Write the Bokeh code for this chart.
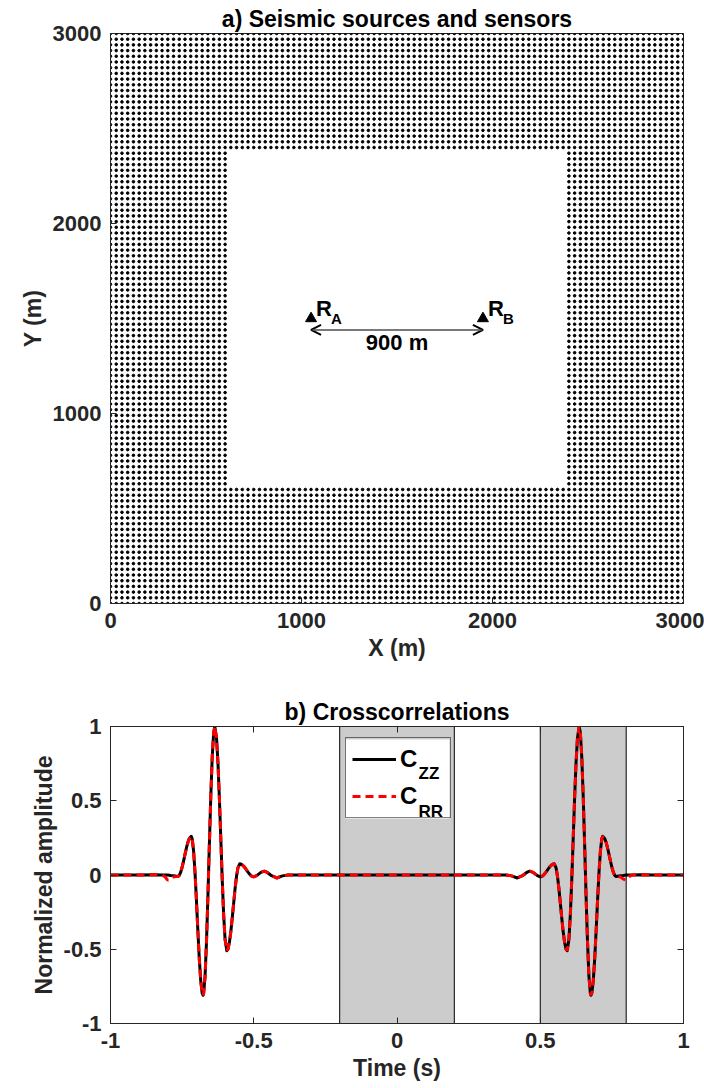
import numpy as np
from bokeh.plotting import figure
from bokeh.layouts import column
from bokeh.models import (ColumnDataSource, Range1d, FixedTicker, LinearAxis, Arrow,
                          OpenHead, Label, LabelSet, Legend, LegendItem, BoxAnnotation)
from bokeh.core.properties import value
from bokeh.embed import file_html
from bokeh.resources import INLINE

FONT = "Liberation Sans"
AX_COLOR = "#262626"

# ---------------- panel a: sources and sensors ----------------
grid_step_m = 30
area_size_m = 3000
hole_min_m = 600
hole_max_m = 2400
receiver_x = [1050, 1950]
receiver_y = [1500, 1500]
receiver_name = ["R", "R"]
receiver_sub = ["A", "B"]
spacing_label = "900 m"
arrow_y_m = 1440
xy_ticks = [0, 1000, 2000, 3000]

# ---------------- panel b: crosscorrelations ----------------
acausal_time = [-1.0, -0.90, -0.85, -0.82, -0.81, -0.80, -0.79, -0.78, -0.765, -0.76,
                -0.755, -0.75, -0.745, -0.74, -0.735, -0.73, -0.725, -0.718, -0.715, -0.71,
                -0.705, -0.70, -0.695, -0.69, -0.685, -0.68, -0.677, -0.675, -0.67, -0.665,
                -0.66, -0.655, -0.65, -0.645, -0.64, -0.636, -0.63, -0.625, -0.62, -0.615,
                -0.61, -0.605, -0.60, -0.594, -0.59, -0.585, -0.58, -0.575, -0.57, -0.565,
                -0.56, -0.555, -0.549, -0.545, -0.54, -0.535, -0.53, -0.525, -0.52, -0.515,
                -0.51, -0.505, -0.50, -0.49, -0.475, -0.463, -0.455, -0.44, -0.42, -0.40, -0.38]
acausal_zz = [0.0, 0.0, 0.002, 0.0, 0.0, 0.0, -0.003, -0.005, -0.010, -0.003,
              0.019, 0.052, 0.094, 0.139, 0.182, 0.219, 0.246, 0.260, 0.246, 0.163,
              0.016, -0.173, -0.377, -0.566, -0.713, -0.796, -0.810, -0.799, -0.684, -0.453,
              -0.145, 0.199, 0.527, 0.793, 0.958, 1.000, 0.925, 0.759, 0.521, 0.245,
              -0.031, -0.269, -0.435, -0.510, -0.499, -0.454, -0.381, -0.288, -0.187, -0.089,
              -0.007, 0.050, 0.075, 0.074, 0.068, 0.059, 0.047, 0.033, 0.019, 0.007,
              -0.003, -0.010, -0.012, -0.004, 0.018, 0.026, 0.020, -0.002, -0.020, -0.006, 0.0]
acausal_rr = [0.0, 0.0, 0.002, 0.0, -0.012, -0.035, -0.028, -0.012, -0.010, -0.003,
              0.019, 0.052, 0.094, 0.139, 0.182, 0.219, 0.246, 0.260, 0.246, 0.163,
              0.016, -0.173, -0.377, -0.566, -0.713, -0.796, -0.810, -0.799, -0.684, -0.453,
              -0.145, 0.199, 0.527, 0.793, 0.958, 1.000, 0.925, 0.759, 0.521, 0.245,
              -0.031, -0.269, -0.435, -0.510, -0.499, -0.454, -0.381, -0.288, -0.187, -0.089,
              -0.007, 0.050, 0.075, 0.074, 0.068, 0.059, 0.047, 0.033, 0.019, 0.007,
              -0.003, -0.010, -0.012, -0.004, 0.018, 0.026, 0.020, -0.002, -0.020, -0.006, 0.0]
middle_time = [-0.3, -0.2, -0.1, 0.0, 0.1, 0.2, 0.3]
middle_zz = [0.0, 0.0, 0.0, 0.0, 0.0, 0.0, 0.0]
middle_rr = [0.0, 0.0, 0.0, 0.0, 0.0, 0.0, 0.0]
causal_time = [0.38, 0.40, 0.42, 0.44, 0.455, 0.463, 0.475, 0.49, 0.50, 0.505,
               0.51, 0.515, 0.52, 0.525, 0.53, 0.535, 0.54, 0.545, 0.549, 0.555,
               0.56, 0.565, 0.57, 0.575, 0.58, 0.585, 0.59, 0.594, 0.60, 0.605,
               0.61, 0.615, 0.62, 0.625, 0.63, 0.636, 0.64, 0.645, 0.65, 0.655,
               0.66, 0.665, 0.67, 0.675, 0.677, 0.68, 0.685, 0.69, 0.695, 0.70,
               0.705, 0.71, 0.715, 0.718, 0.725, 0.73, 0.735, 0.74, 0.745, 0.75,
               0.755, 0.76, 0.765, 0.78, 0.79, 0.80, 0.81, 0.82, 0.85, 0.90, 1.0]
causal_zz = [0.0, -0.006, -0.020, -0.002, 0.020, 0.026, 0.018, -0.004, -0.012, -0.010,
             -0.003, 0.007, 0.019, 0.033, 0.047, 0.059, 0.068, 0.074, 0.075, 0.050,
             -0.007, -0.089, -0.187, -0.288, -0.381, -0.454, -0.499, -0.510, -0.435, -0.269,
             -0.031, 0.245, 0.521, 0.759, 0.925, 1.000, 0.958, 0.793, 0.527, 0.199,
             -0.145, -0.453, -0.684, -0.799, -0.810, -0.796, -0.713, -0.566, -0.377, -0.173,
             0.016, 0.163, 0.246, 0.260, 0.246, 0.219, 0.182, 0.139, 0.094, 0.052,
             0.019, -0.003, -0.010, -0.005, -0.003, 0.0, 0.0, 0.0, 0.002, 0.0, 0.0]
causal_rr = [0.0, -0.006, -0.020, -0.002, 0.020, 0.026, 0.018, -0.004, -0.012, -0.010,
             -0.003, 0.007, 0.019, 0.033, 0.047, 0.059, 0.068, 0.074, 0.075, 0.050,
             -0.007, -0.089, -0.187, -0.288, -0.381, -0.454, -0.499, -0.510, -0.435, -0.269,
             -0.031, 0.245, 0.521, 0.759, 0.925, 1.000, 0.958, 0.793, 0.527, 0.199,
             -0.145, -0.453, -0.684, -0.799, -0.810, -0.796, -0.713, -0.566, -0.377, -0.173,
             0.016, 0.163, 0.246, 0.260, 0.246, 0.219, 0.182, 0.139, 0.094, 0.052,
             0.019, -0.003, -0.010, -0.012, -0.028, -0.035, -0.012, 0.0, 0.002, 0.0, 0.0]
window_start = [-0.2, 0.5]
window_end = [0.2, 0.8]
amp_ticks = [-1, -0.5, 0, 0.5, 1]
amp_tick_labels = ["-1", "-0.5", "0", "0.5", "1"]
time_ticks = [-1, -0.5, 0, 0.5, 1]
time_tick_labels = ["-1", "-0.5", "0", "0.5", "1"]
legend_main = ["C", "C"]
legend_subs = ["ZZ", "RR"]

TICK_SIZE = "22px"
LABEL_SIZE = "23px"

# legend box geometry (screen pixels, relative to the frame's lower-left corner)
LEG_X, LEG_Y, LEG_PAD, LEG_ROW, LEG_GAP = 235, 205, 6, 30, 7
LEG_GLYPH_W, LEG_STANDOFF, LEG_LABEL_W = 44, 4, 44


def style_axis(ax):
    ax.major_tick_in = 6
    ax.major_tick_out = 0
    ax.minor_tick_line_color = None
    ax.axis_line_color = AX_COLOR
    ax.major_tick_line_color = AX_COLOR
    ax.major_label_text_font = FONT
    ax.major_label_text_font_size = TICK_SIZE
    ax.major_label_text_font_style = "bold"
    ax.major_label_text_color = AX_COLOR
    ax.axis_label_text_font = FONT
    ax.axis_label_text_font_size = LABEL_SIZE
    ax.axis_label_text_font_style = "bold"
    ax.axis_label_text_color = AX_COLOR
    ax.major_label_standoff = 9
    ax.axis_label_standoff = 4


def style_title(p):
    p.title.text_font = FONT
    p.title.text_font_size = LABEL_SIZE
    p.title.text_font_style = "bold"
    p.title.text_color = "black"
    p.title.align = "center"
    p.title.standoff = 4


# ---------------- figure a ----------------
coords = np.arange(0, area_size_m + grid_step_m, grid_step_m)
gx, gy = np.meshgrid(coords, coords)
inside = (gx > hole_min_m) & (gx < hole_max_m) & (gy > hole_min_m) & (gy < hole_max_m)
src = ColumnDataSource(dict(x=gx[~inside], y=gy[~inside]))

p1 = figure(width=704, height=663, x_range=Range1d(0, area_size_m), y_range=Range1d(0, area_size_m),
            output_backend="svg", toolbar_location=None, title="a) Seismic sources and sensors",
            min_border_left=109, min_border_right=19, min_border_top=33, min_border_bottom=59,
            x_axis_label="X (m)", y_axis_label="Y (m)")
style_title(p1)
p1.xgrid.visible = False
p1.ygrid.visible = False
p1.outline_line_color = AX_COLOR
p1.xaxis.ticker = FixedTicker(ticks=xy_ticks)
p1.yaxis.ticker = FixedTicker(ticks=xy_ticks)
for ax in p1.xaxis + p1.yaxis:
    style_axis(ax)

p1.scatter("x", "y", source=src, size=2.6, color="black", marker="circle")

rec_src = ColumnDataSource(dict(x=receiver_x, y=receiver_y, name=receiver_name, sub=receiver_sub))
p1.scatter("x", "y", source=rec_src, marker="triangle", size=11, color="black")
p1.add_layout(LabelSet(x="x", y="y", text="name", source=rec_src, x_offset=5, y_offset=3,
                       text_font=value(FONT), text_font_size=value("22px"),
                       text_font_style="bold", text_color="black", text_baseline="alphabetic"))
p1.add_layout(LabelSet(x="x", y="y", text="sub", source=rec_src, x_offset=20, y_offset=-5,
                       text_font=value(FONT), text_font_size=value("15px"),
                       text_font_style="bold", text_color="black", text_baseline="alphabetic"))
p1.add_layout(Arrow(start=OpenHead(size=10, line_width=2, line_color="black"),
                    end=OpenHead(size=10, line_width=2, line_color="black"),
                    x_start=receiver_x[0], y_start=arrow_y_m, x_end=receiver_x[1], y_end=arrow_y_m,
                    line_color="#4d4d4d", line_width=1.5))
p1.add_layout(Label(x=(receiver_x[0] + receiver_x[1]) / 2, y=arrow_y_m, y_offset=-13,
                    text=spacing_label, text_align="center", text_baseline="alphabetic",
                    text_font=FONT, text_font_size="22px", text_font_style="bold",
                    text_color="black"))

# ---------------- figure b ----------------
time_s = acausal_time + middle_time + causal_time
c_zz = acausal_zz + middle_zz + causal_zz
c_rr = acausal_rr + middle_rr + causal_rr

p2 = figure(width=704, height=425, x_range=Range1d(-1, 1), y_range=Range1d(-1, 1),
            output_backend="svg", toolbar_location=None, title="b) Crosscorrelations",
            min_border_left=110, min_border_right=21, min_border_top=63, min_border_bottom=65,
            x_axis_label="Time (s)", y_axis_label="Normalized amplitude")
style_title(p2)
p2.xgrid.visible = False
p2.ygrid.visible = False
p2.outline_line_color = AX_COLOR
p2.xaxis.ticker = FixedTicker(ticks=time_ticks)
p2.yaxis.ticker = FixedTicker(ticks=amp_ticks)
p2.xaxis.major_label_overrides = {float(t): s for t, s in zip(time_ticks, time_tick_labels)}
p2.yaxis.major_label_overrides = {float(t): s for t, s in zip(amp_ticks, amp_tick_labels)}
for ax in p2.xaxis + p2.yaxis:
    style_axis(ax)

top_ax = LinearAxis(ticker=FixedTicker(ticks=time_ticks))
right_ax = LinearAxis(ticker=FixedTicker(ticks=amp_ticks))
for ax in (top_ax, right_ax):
    style_axis(ax)
    ax.major_label_text_font_size = "1px"
    ax.major_label_text_color = None
    ax.major_label_standoff = 0
p2.add_layout(top_ax, "above")
p2.add_layout(right_ax, "right")

win_src = ColumnDataSource(dict(left=window_start, right=window_end))
p2.quad(left="left", right="right", bottom=-1, top=1, source=win_src,
        fill_color="#cccccc", line_color="black", line_width=1)

sig = ColumnDataSource(dict(t=time_s, zz=c_zz, rr=c_rr))
r_zz = p2.line("t", "zz", source=sig, line_color="black", line_width=3, line_join="round")
r_rr = p2.line("t", "rr", source=sig, line_color="red", line_width=3, line_dash="8 5")

leg_w = 2 * LEG_PAD + LEG_GLYPH_W + LEG_STANDOFF + LEG_LABEL_W
leg_h = 2 * LEG_PAD + 2 * LEG_ROW + LEG_GAP
# white backing for the legend, placed in data units derived from the frame geometry
frame_w, frame_h = 704 - 110 - 21, 425 - 63 - 65
x_per_px = 2.0 / frame_w
y_per_px = 2.0 / frame_h
p2.add_layout(BoxAnnotation(left=-1 + LEG_X * x_per_px, right=-1 + (LEG_X + leg_w) * x_per_px,
                            bottom=-1 + LEG_Y * y_per_px, top=-1 + (LEG_Y + leg_h) * y_per_px,
                            fill_color="white", fill_alpha=1, line_color=None, level="annotation"))

legend = Legend(items=[LegendItem(label=legend_main[0], renderers=[r_zz]),
                       LegendItem(label=legend_main[1], renderers=[r_rr])],
                location=(LEG_X, LEG_Y), padding=LEG_PAD, spacing=LEG_GAP,
                glyph_width=LEG_GLYPH_W, glyph_height=LEG_ROW, label_height=LEG_ROW,
                label_width=LEG_LABEL_W, label_standoff=LEG_STANDOFF, margin=0,
                border_line_color="black", border_line_width=1, background_fill_alpha=0,
                label_text_font=FONT, label_text_font_size="24px", label_text_font_style="bold",
                label_text_color="black")
p2.add_layout(legend)
sub_x = LEG_X + LEG_PAD + LEG_GLYPH_W + LEG_STANDOFF + 19
for sub, sy in zip(legend_subs, [250, 212]):
    p2.add_layout(Label(x=sub_x, y=sy, x_units="screen", y_units="screen", text=sub, level="overlay",
                        text_font=FONT, text_font_size="17px", text_font_style="bold",
                        text_color="black", text_baseline="alphabetic"))

layout = column(p1, p2, spacing=0)
open("out.html", "w").write(file_html(layout, INLINE))
